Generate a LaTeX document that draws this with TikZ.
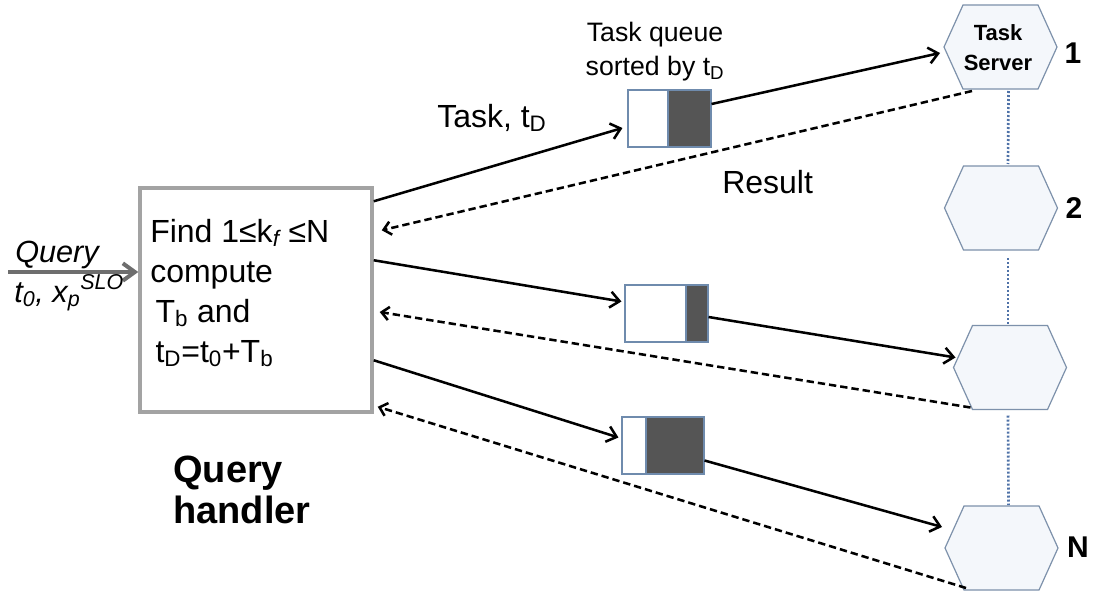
\documentclass[tikz,border=0pt]{standalone}
\usepackage{fontspec}
\setmainfont{Liberation Sans}
\usetikzlibrary{arrows.meta,calc}

\definecolor{hexfill}{HTML}{F4F7FB}
\definecolor{hexline}{HTML}{7D91AB}
\definecolor{dotblue}{HTML}{4F72A8}
\definecolor{qline}{HTML}{6F8BAD}
\definecolor{qdark}{HTML}{555555}
\definecolor{boxgray}{HTML}{A3A3A3}
\definecolor{querygray}{HTML}{6E6E6E}

\tikzset{
  hexshape/.style={draw=hexline, fill=hexfill, line width=0.9pt, line join=miter},
  serverhex/.pic={
    \path[hexshape] (-56.5,0) coordinate (-w) -- (-37.5,-42) coordinate (-nw)
      -- (37.5,-42) coordinate (-ne) -- (56.5,0) coordinate (-e)
      -- (37.5,42) coordinate (-se) -- (-37.5,42) coordinate (-sw) -- cycle;
    \coordinate (-c) at (0,0);
  },
  qbox/.style={draw=qline, line width=0.8pt, fill=white, inner sep=0pt, minimum height=42.75pt},
  qfill/.style={draw=qline, line width=0.8pt, fill=qdark, inner sep=0pt, minimum height=42.75pt},
  handler/.style={draw=boxgray, line width=2.6pt, fill=white, minimum width=174pt, minimum height=168pt, inner sep=0pt},
  taskarrow/.style={line width=1.9pt, -{Straight Barb[length=7pt,width=12pt]}},
  resultarrow/.style={line width=1.9pt, dash pattern=on 5.5pt off 3pt, -{Straight Barb[length=5.5pt,width=10pt]}},
  serverlink/.style={dotblue, line width=2pt, dash pattern=on 1.5pt off 1.5pt},
  queryarrow/.style={querygray, line width=3pt, -{Straight Barb[length=9pt,width=13pt]}},
  txt/.style={inner sep=0pt, font=\fontsize{24}{30}\selectfont},
  num/.style={inner sep=0pt, font=\fontsize{22.5}{27}\selectfont\bfseries},
}

\begin{document}
\begin{tikzpicture}[x=0.75pt,y=-0.75pt]
  \path[fill=white] (0,0) rectangle (1094,592);
  \useasboundingbox (0,0) rectangle (1094,592);

  % query handler (multi-line nodes are placed by the baseline of their last line)
  \node[handler] (qh) at (256,300) {};
  \node[txt, anchor=base west, align=left] (qhtext) at (150,362)
    {Find 1≤k\textsubscript{\itshape f} ≤N\\compute\\\hspace*{4pt}T\textsubscript{b} and\\\hspace*{4pt}t\textsubscript{D}=t\textsubscript{0}+T\textsubscript{b}};
  \node[inner sep=0pt, anchor=base west, align=left, font=\fontsize{28.5}{30.75}\selectfont\bfseries]
    (qhlabel) at (173,523) {Query\\handler};

  % incoming query
  \coordinate (qin) at (8,272);
  \draw[queryarrow] (qin) -- (qin -| qh.west);
  \node[txt, anchor=base west, font=\fontsize{23}{28}\selectfont\itshape] (qname) at (15,262) {Query};
  \node[txt, anchor=base west, font=\fontsize{23}{28}\selectfont\itshape] (qparams) at (14,302)
    {t\textsubscript{0}, x\textsubscript{p}\textsuperscript{SLO}};

  % task queues
  \node[qbox, minimum width=62.25pt] (q1) at (669.5,118.5) {};
  \node[qfill, minimum width=32.25pt] (q1d) at (689.5,118.5) {};
  \node[qbox, minimum width=62.25pt] (q2) at (666.5,313.5) {};
  \node[qfill, minimum width=16.5pt] (q2d) at (697,313.5) {};
  \node[qbox, minimum width=61.5pt] (q3) at (663,445.5) {};
  \node[qfill, minimum width=43.5pt] (q3d) at (675,445.5) {};
  \node[inner sep=0pt, anchor=base, align=center, font=\fontsize{20}{24.75}\selectfont] (qlabel) at (655,75)
    {Task queue\\sorted by t\textsubscript{D}};

  % task servers
  \pic (h1) at (1000.5,47) {serverhex};
  \pic (h2) at (1001,208) {serverhex};
  \pic (h3) at (1010,367.5) {serverhex};
  \pic (hN) at (1001.5,548) {serverhex};
  \node[inner sep=0pt, align=center, font=\fontsize{16.5}{22.5}\selectfont\bfseries] (srv) at (998,48) {Task\\Server};
  \node[num] (n1) at (1073,53) {1};
  \node[num] (n2) at (1074,208) {2};
  \node[num] (nN) at (1078,547) {N};

  \draw[serverlink] ($(h1-c)+(8,44)$) -- ($(h2-c)+(7,-44)$);
  \draw[serverlink] ($(h2-c)+(7,50)$) -- ($(h3-c)+(-2,-43)$);
  \draw[serverlink] ($(h3-c)+(-2,48)$) -- ($(hN-c)+(7,-43)$);

  % dispatch of tasks
  \draw[taskarrow] ($(qh.north east)+(0,15)$) -- ($(q1.west)+(-5,9.5)$);
  \draw[taskarrow] ($(q1d.east)+(0,-14.5)$) -- ($(h1-w)+(-4,6)$);
  \draw[taskarrow] ($(qh.north east)+(0,74)$) -- ($(q2.west)+(-3,-12)$);
  \draw[taskarrow] ($(q2d.east)+(0,3.5)$) -- ($(h3-w)+(2,-10)$);
  \draw[taskarrow] ($(qh.north east)+(0,174)$) -- ($(q3.west)+(-3,-8)$);
  \draw[taskarrow] ($(q3d.east)+(0,15)$) -- ($(hN-w)+(-3,-21)$);

  % returned results
  \draw[resultarrow] ($(h1-sw)+(9,2)$) -- ($(qh.north east)+(8,44)$);
  \draw[resultarrow] ($(h3-sw)+(-2,-2)$) -- ($(qh.east)+(6,12)$);
  \draw[resultarrow] ($(hN-sw)+(2,-2)$) -- ($(qh.south east)+(4,-7)$);

  \node[txt, anchor=base west] (tasklabel) at (437,127) {Task, t\textsubscript{D}};
  \node[txt, anchor=base west] (resultlabel) at (722,193) {Result};
\end{tikzpicture}
\end{document}
